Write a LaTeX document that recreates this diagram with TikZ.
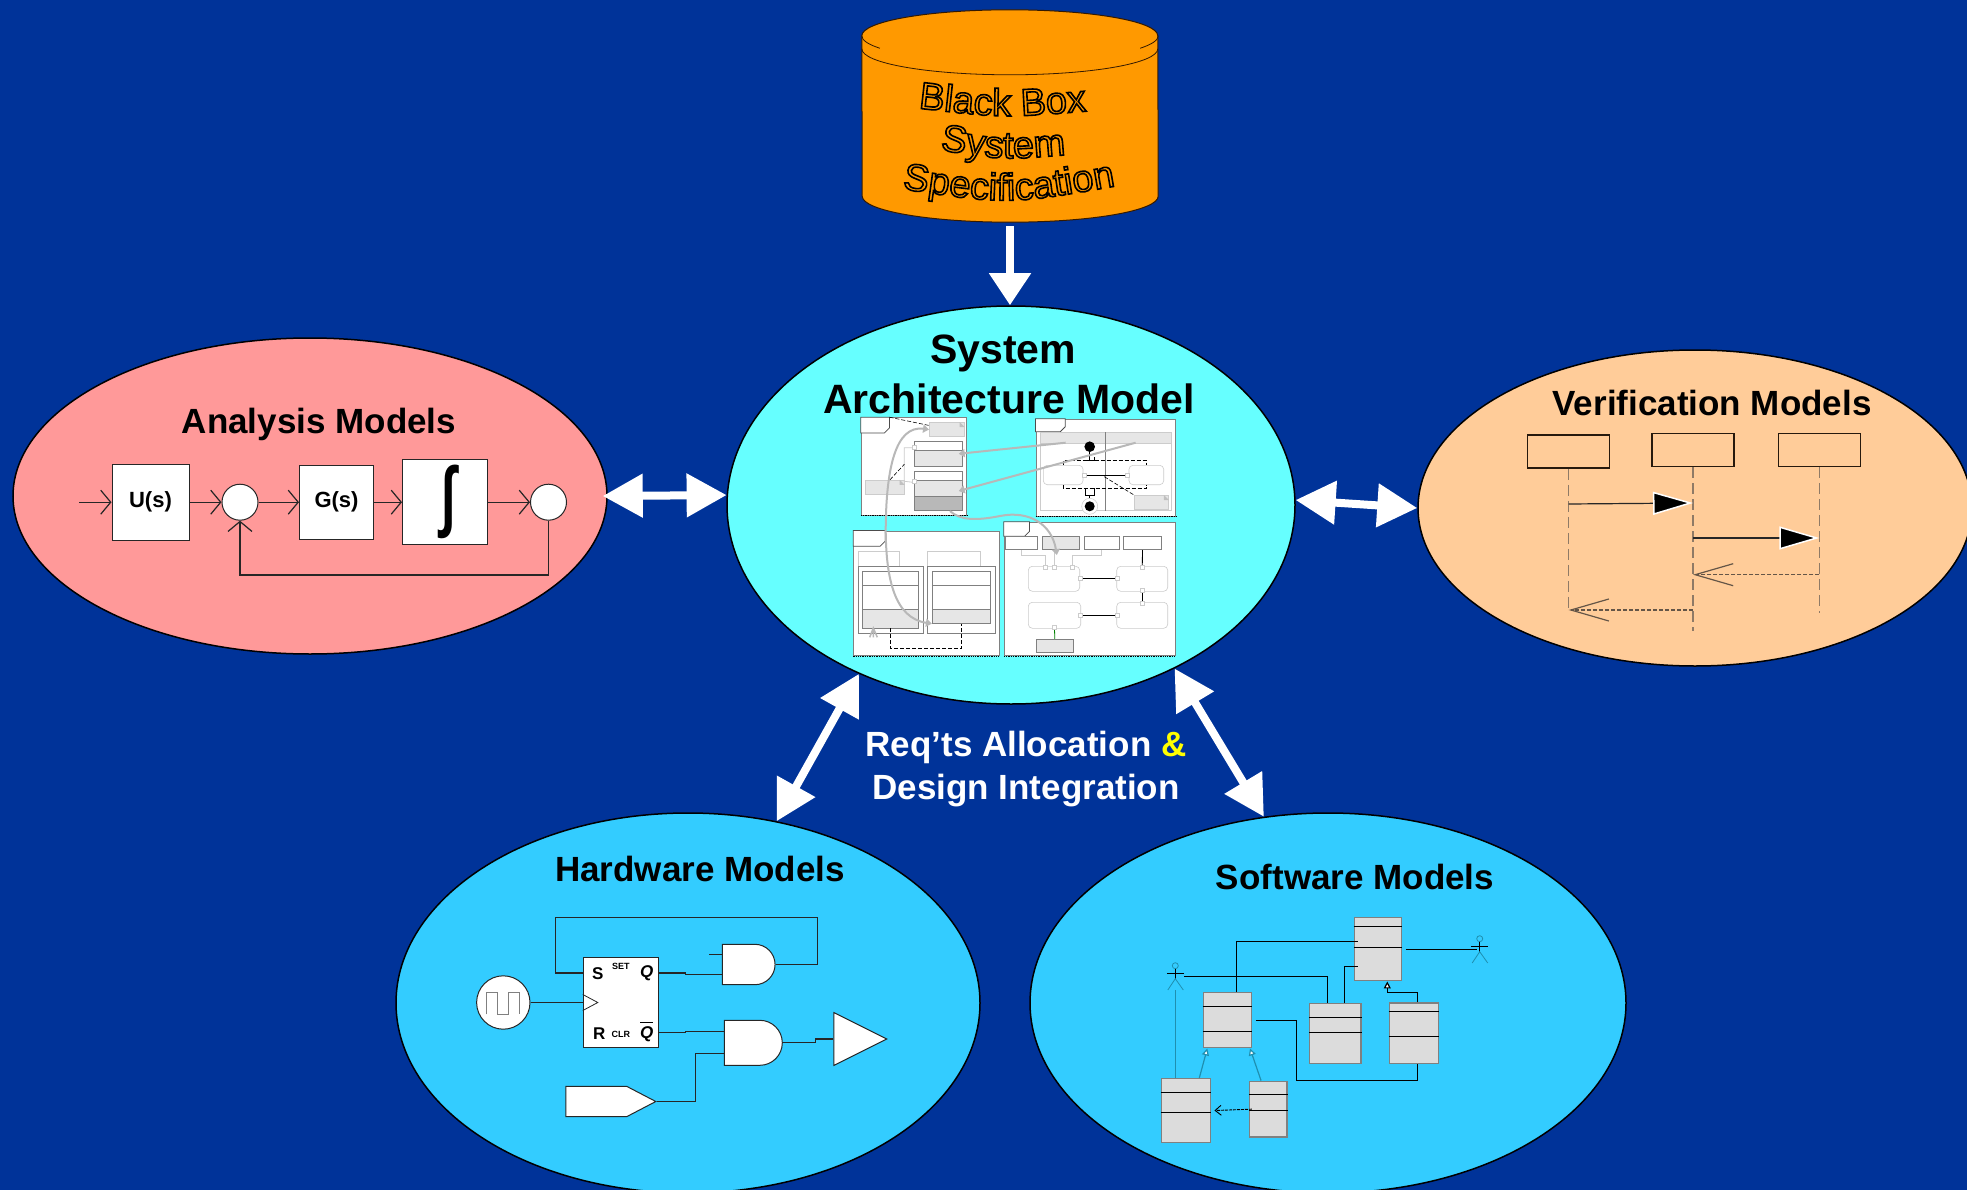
\documentclass[tikz,border=0pt]{standalone}
\usepackage{fontspec}
\setmainfont{Liberation Sans}
\usetikzlibrary{arrows.meta,positioning,shapes.geometric,shapes.misc,shapes.symbols,decorations.text}
\definecolor{pageblue}{HTML}{003399}
\definecolor{boxorange}{HTML}{FF9900}
\definecolor{pinkmodel}{HTML}{FF9999}
\definecolor{cyanmodel}{HTML}{66FFFF}
\definecolor{peachmodel}{HTML}{FFCC99}
\definecolor{bluemodel}{HTML}{33CCFF}
\definecolor{andyellow}{HTML}{FFFF00}
\definecolor{panelgray}{HTML}{808080}
\definecolor{linkgray}{HTML}{B8B8B8}
\definecolor{notegray}{HTML}{E6E6E6}
\definecolor{portgray}{HTML}{CCCCCC}
\definecolor{classgray}{HTML}{DCDCDC}
\definecolor{lifebrown}{HTML}{8F7A66}
\definecolor{umlteal}{HTML}{1F8FB0}
\makeatletter
\newcommand{\strokedtext}[2]{\pgfsys@beginscope\pgfsys@invoke{2 Tr #1 w 0 G }#2\pgfsys@endscope}
\makeatother
\newcommand{\outlinechar}[1]{\strokedtext{1.6}{#1}}
\tikzset{
  bubble/.style={ellipse,draw=black,line width=1.5pt,inner sep=0pt},
  modeltitle/.style={font=\fontsize{35}{38}\selectfont\bfseries,inner sep=0pt},
  bigarrow/.style={draw=white,line width=8pt,{Triangle[width=42pt,length=40pt]}-{Triangle[width=42pt,length=40pt]}},
  wire/.style={draw=black!85,line width=1.2pt},
  chevron/.style={wire,-{Straight Barb[length=10pt,width=24pt]}},
  block/.style={draw=black!85,fill=white,line width=1pt,inner sep=0pt,font=\fontsize{22}{24}\selectfont\bfseries},
  junction/.style={circle,draw=black!85,fill=white,line width=1pt,minimum size=36pt,inner sep=0pt},
  lifebox/.style={draw=black!80!brown,line width=1.5pt,minimum width=82pt,minimum height=33pt,inner sep=0pt},
  lifeline/.style={draw=lifebrown,line width=1.5pt,dash pattern=on 11pt off 5pt},
  callmsg/.style={wire,-{Triangle[length=40pt,width=23pt,fill=black,color=white,line width=1.5pt]}},
  retmsg/.style={draw=lifebrown!70!black,line width=1.2pt,dash pattern=on 4pt off 2pt,-{Straight Barb[length=38pt,width=22pt]}},
  gate/.style={rounded rectangle,rounded rectangle left arc=none,draw=black!85,fill=white,line width=1pt,inner sep=0pt},
  fftext/.style={inner sep=0pt,font=\fontsize{17}{18}\selectfont\bfseries},
  ffsmall/.style={inner sep=0pt,font=\fontsize{9}{10}\selectfont\bfseries},
  umlclass/.style={draw=panelgray,fill=classgray,line width=1.5pt,inner sep=0pt},
  umlwire/.style={draw=black,line width=1.2pt},
  umlgen/.style={draw=umlteal,line width=1.2pt,-{Triangle[open,fill=white,length=7pt,width=7pt]}},
  panel/.style={draw=panelgray,fill=white,line width=1pt,inner sep=0pt},
  tabline/.style={draw=black!70,fill=white,line width=.8pt},
  notebox/.style={fill=notegray,draw=portgray,line width=.5pt,inner sep=0pt},
  partbox/.style={draw=panelgray,fill=white,line width=.8pt,inner sep=0pt},
  shadebox/.style={partbox,fill=notegray},
  lightframe/.style={draw=portgray,fill=white,line width=.8pt,inner sep=0pt},
  roundbox/.style={draw=portgray,fill=white,line width=.6pt,rounded corners=4pt,inner sep=0pt},
  port/.style={draw=portgray,fill=white,line width=.5pt,minimum size=4pt,inner sep=0pt},
  lightlink/.style={draw=portgray,line width=.8pt},
  dashlink/.style={draw=black,line width=.6pt,dash pattern=on 4pt off 2pt},
  graylink/.style={draw=linkgray,line width=2pt,-{Triangle[length=6pt,width=8pt]}},
  fineblack/.style={draw=black,line width=.8pt},
  specline/.style={decorate,decoration={text effects along path,text={#1},text align=center,text effects/.cd,text along path,character command=\outlinechar,every character/.style={text=boxorange,font=\fontsize{38}{40}\selectfont}}},
  pics/actor/.style={code={
    \coordinate (-head) at (0pt,0pt);
    \coordinate (-hand) at (8.7pt,-10.6pt);
    \coordinate (-foot) at (0pt,-24.3pt);
    \draw[draw=umlteal,line width=.8pt] (0pt,0pt) circle (3pt);
    \draw[umlwire] (0pt,-3pt) -- (0pt,-13pt) (-8.5pt,-7.6pt) -- (8.5pt,-7.6pt);
    \draw[draw=umlteal,line width=.8pt] (-7.5pt,-24.3pt) -- (0pt,-13pt) -- (8pt,-24.3pt);
  }}
}
\newcommand{\cbox}[6]{\node[#2,minimum width={(#5-#3)*1pt},minimum height={(#6-#4)*1pt}] (#1) at ({(#3+#5)/2},{(#4+#6)/2}) {};}
\newcommand{\uml}[7]{\cbox{#1}{umlclass}{#2}{#3}{#4}{#5}
  \draw[umlwire] (#1.west |- 0,#6) -- (#1.east |- 0,#6) (#1.west |- 0,#7) -- (#1.east |- 0,#7);}
\newcommand{\paneltab}[3]{\draw[tabline] (#1.north west) -- ++(#2pt,0pt) -- ++(0pt,-#3pt+5pt) -- ++(-5pt,-5pt) -| cycle;}
\newcommand{\notefold}[1]{\fill[panelgray!50] ([xshift=-5pt]#1.north east) -- ([yshift=-5pt]#1.north east) -- ([shift={(-5pt,-5pt)}]#1.north east) -- cycle;}
\newcommand{\panelfoot}[1]{\draw[black,line width=1.3pt,densely dotted] (#1.south west) -- (#1.south east);}
\begin{document}
\begin{tikzpicture}[x=1pt,y=-1pt,on grid]
  \useasboundingbox (0,0) rectangle (1967,1190);
  \clip (0,0) rectangle (1967,1190);
  \fill[pageblue] (0,0) rectangle (1967,1190);

  \node [bubble,fill=cyanmodel,minimum width=568pt,minimum height=398pt] (system) at (1011,505) {};
  \node [bubble,fill=pinkmodel,minimum width=594pt,minimum height=316pt] (analysis) [above left=9pt and 701pt of system] {};
  \node [bubble,fill=peachmodel,minimum width=554pt,minimum height=316pt] (verification) [below right=3pt and 684pt of system] {};
  \node [bubble,fill=bluemodel,minimum width=584pt,minimum height=380pt] (hardware) [below left=498pt and 323pt of system] {};
  \node [bubble,fill=bluemodel,minimum width=596pt,minimum height=380pt] (software) [below right=498pt and 317pt of system] {};

  \node [inner sep=0pt,minimum width=296pt,minimum height=212pt] (blackbox) at (1010,116) {};
  \draw[fill=boxorange,draw=black!80!orange,line width=1pt] ([yshift=-26pt]blackbox.north west) arc[start angle=180,end angle=0,x radius=148pt,y radius=26pt]
    -- ([yshift=26pt]blackbox.south east) arc[start angle=0,end angle=-180,x radius=148pt,y radius=26pt] -- cycle;
  \draw[draw=black!80!orange,line width=.8pt] ([yshift=-39pt]blackbox.north west) arc[start angle=180,end angle=360,x radius=148pt,y radius=26pt];
  \draw[draw=black!80!orange,line width=.8pt] ([yshift=-26pt]blackbox.north west) arc[start angle=180,end angle=208.6,x radius=148pt,y radius=26pt];
  \draw[draw=black!80!orange,line width=.8pt] ([yshift=-26pt]blackbox.north east) arc[start angle=0,end angle=-28.6,x radius=148pt,y radius=26pt];
  \coordinate (bba) at (916,108);
  \coordinate (bbb) at (1089,111);
  \coordinate (bbc) at (940,150);
  \coordinate (bbd) at (1064,155);
  \coordinate (bbe) at (896,188);
  \coordinate (bbf) at (1122,185);
  \path[specline={Black Box}] (bba) .. controls (1003,118) .. (bbb);
  \path[specline={System}] (bbc) .. controls (1003,160) .. (bbd);
  \path[specline={Specification}] (bbe) .. controls (1008,205) .. (bbf);

  \draw[draw=white,line width=8pt,shorten <=4pt,-{Triangle[width=40pt,length=32pt]}] (blackbox.south) -- (blackbox.south |- system.north);
  \draw[bigarrow] ([xshift=-5pt]analysis.0) -- (system.178);
  \draw[bigarrow] (system.1) -- (verification.180);
  \draw[bigarrow] (system.228) -- (hardware.64);
  \draw[bigarrow] (system.-45.3) -- (software.109.8);

  \node[modeltitle,font=\fontsize{41}{44}\selectfont\bfseries] (systitle) [above left=152pt and 8pt of system] {System};
  \node[modeltitle,font=\fontsize{41}{44}\selectfont\bfseries] (archtitle) [below right=46pt and 6pt of systitle] {Architecture Model};
  \node[modeltitle] (analysistitle) [above right=72pt and 9pt of analysis] {Analysis Models};
  \node[modeltitle] (verificationtitle) [above right=105pt and 17pt of verification] {Verification Models};
  \node[modeltitle] (hardwaretitle) [above right=134pt and 12pt of hardware] {Hardware Models};
  \node[modeltitle] (softwaretitle) [above right=126pt and 27pt of software] {Software Models};
  \node[align=center,text=white,inner sep=0pt,font=\fontsize{35}{43}\selectfont\bfseries] (reqs) [below right=264pt and 15pt of system] {Req’ts Allocation {\color{andyellow}\&}\\Design Integration};

  \node[block,minimum width=77pt,minimum height=76.3pt] (us) at (150.5,502.2) {U(s)};
  \node[junction] (suma) [right=89.5pt of us] {};
  \node[block,minimum width=74pt,minimum height=73.7pt] (gs) [right=96.5pt of suma] {G(s)};
  \node[block,minimum width=85pt,minimum height=85pt,font=\fontsize{72}{72}\selectfont\bfseries] (intg) [right=108.5pt of gs] {\hspace*{8pt}\scalebox{.72}[1.08]{∫}};
  \node[junction] (sumb) [right=103.5pt of intg] {};
  \node[inner sep=0pt,minimum size=0pt] (usin) [left=71.5pt of us] {};
  \path[chevron]
    (usin) edge (us)
    (us) edge (suma)
    (suma) edge (gs)
    (gs) edge (intg)
    (intg) edge (sumb);
  \draw[chevron] (sumb.south) -- ++(0pt,-54.3pt) -| (suma.south);

  \node[lifebox] (vera) at (1568.7,451.5) {};
  \node[lifebox] (verb) [above right=1.5pt and 124.3pt of vera] {};
  \node[lifebox] (verc) [right=126.3pt of verb] {};
  \coordinate[below=158.5pt of vera] (veraend);
  \coordinate[below=180.5pt of verb] (verbend);
  \coordinate[below=162.5pt of verc] (vercend);
  \path[lifeline]
    (vera.south) edge (veraend)
    (verb.south) edge (verbend)
    (verc.south) edge (vercend);
  \draw[callmsg] (vera |- 0,504) -- (verb |- 0,503);
  \draw[callmsg] (verb |- 0,538) -- (verc |- 0,538);
  \draw[retmsg] (verc |- 0,574.7) -- (verb |- 0,574.7);
  \draw[retmsg] (verb |- 0,610) -- (vera |- 0,610);

  \node[block,minimum width=75pt,minimum height=90pt] (ff) at (620.8,1002.5) {};
  \node[fftext] (ffs) [above left=28.5pt and 23.1pt of ff] {S};
  \node[ffsmall] (ffset) [above=36.5pt of ff] {SET};
  \node[fftext] (ffq) [above right=29.2pt and 25.9pt of ff] {\itshape Q};
  \node[fftext] (ffr) [below left=31.5pt and 21.5pt of ff] {R};
  \node[ffsmall] (ffclr) [below=31.5pt of ff] {CLR};
  \node[fftext] (ffqbar) [below right=29.2pt and 25.9pt of ff] {$\overline{\mbox{\itshape Q}\rule{0pt}{15pt}}$};
  \draw[draw=black!85,line width=.8pt] ([yshift=8pt]ff.west) -- ([xshift=15pt]ff.west) -- ([yshift=-8pt]ff.west);
  \node[junction,minimum size=53.4pt] (clock) [left=117.5pt of ff] {};
  \draw[draw=panelgray,line width=1.2pt] (486.7,1014.3) |- (497.7,992.3) |- (508.7,1014.3) |- (519.3,992.3) -- (519.3,1014.3);
  \node[gate,minimum width=52.7pt,minimum height=40.4pt] (andtop) [above right=38pt and 127.9pt of ff] {};
  \node[gate,minimum width=58pt,minimum height=45pt] (andbot) [below right=40.3pt and 132.5pt of ff] {};
  \node[isosceles triangle,isosceles triangle apex angle=53,draw=black!85,fill=white,line width=1pt,inner sep=0pt,minimum height=53pt,anchor=lower side] (driver) at (833.3,1039) {};
  \node[signal,signal to=east,signal from=nowhere,signal pointer angle=55,draw=black!85,fill=white,line width=1pt,inner sep=0pt,minimum width=90pt,minimum height=30.4pt] (inport) at (596.2,1101.5) {};
  \draw[wire] (clock) -- (ff.west);
  \draw[wire] (andtop.east) -- ++(41.7pt,0pt) -- ++(0pt,47pt) -| ([xshift=-27.3pt,yshift=29.5pt]ff.west) -- ([yshift=29.5pt]ff.west);
  \draw[wire] ([yshift=29.5pt]ff.east) -- ++(27pt,0pt) |- ([yshift=-10.2pt]andtop.west);
  \draw[wire] ([yshift=10.2pt]andtop.west) -- ++(-13.3pt,0pt);
  \draw[wire] ([yshift=-30pt]ff.east) -- ++(27pt,0pt) |- ([yshift=11.5pt]andbot.west);
  \draw[wire] (inport.east) -- ++(38.3pt,0pt) |- ([yshift=-10.5pt]andbot.west);
  \draw[wire] (andbot.east) -- ++(33pt,0pt) |- (driver.lower side);

  \uml{clsa}{1354.3}{917.7}{1401.7}{980.7}{926.3}{947.3}
  \uml{clsb}{1203.3}{992.3}{1251.7}{1047.7}{1006.3}{1031.3}
  \uml{clsc}{1309.7}{1003.3}{1361}{1063.3}{1017.3}{1032.3}
  \uml{clsd}{1389.3}{1003}{1438.7}{1063.7}{1011.3}{1036.3}
  \uml{clse}{1161.3}{1078.7}{1210.7}{1142.3}{1092.3}{1112.3}
  \uml{clsf}{1249.7}{1081.3}{1287}{1137}{1094.3}{1110.3}
  \pic (actr) at (1479.7,938.7) {actor};
  \pic (actl) at (1175.3,965.7) {actor};
  \draw[umlwire] ([xshift=8.8pt]clsb.north) |- ([shift={(4pt,8pt)}]clsa.west);
  \draw[umlwire] (actl-hand) -| ([xshift=-8pt]clsc.north);
  \draw[umlwire] ([xshift=9pt]clsc.north) |- ([shift={(4pt,-17pt)}]clsa.west);
  \draw[umlwire] ([xshift=3.3pt]clsa.east) -- ([xshift=-11pt]actr-hand |- clsa.east);
  \draw[umlwire,-{Triangle[open,fill=white,length=7pt,width=7pt]}] ([xshift=3.3pt]clsd.north) -- ++(0pt,9.7pt) -| ([xshift=9.3pt]clsa.south);
  \draw[umlwire] ([shift={(3.3pt,0pt)}]clsb.east |- 0,1020.3) -| (1296.3,1080.3) -| ([xshift=3.3pt]clsd.south);
  \draw[umlgen] ([xshift=13.3pt]clse.north) -- ([xshift=-20.2pt]clsb.south);
  \draw[umlgen] ([xshift=-7.3pt]clsf.north) -- ([xshift=22.5pt]clsb.south);
  \draw[draw=umlteal,line width=1.2pt] (actl-foot) -- (actl-foot |- clse.north);
  \draw[draw=black,line width=.9pt,dash pattern=on 3pt off 1pt,-{Straight Barb[length=6pt,width=10pt]}] ([xshift=3pt]clsf.west) -- ([xshift=3pt]clse.east);

  \cbox{pa}{panel}{861.3}{417.7}{966.7}{515}
  \paneltab{pa}{28.7}{15.7}
  \panelfoot{pa}
  \cbox{panote}{notebox}{929.3}{422.3}{964.3}{436.7}
  \notefold{panote}
  \cbox{pab}{partbox}{914.3}{441.3}{962.3}{466.3}
  \cbox{pabg}{shadebox}{914.3}{450}{962.3}{466.3}
  \cbox{pac}{partbox}{914.3}{471.3}{962.3}{510.7}
  \cbox{pacg}{shadebox}{914.3}{480.3}{962.3}{496}
  \cbox{pacd}{shadebox,fill=linkgray}{914.3}{496}{962.3}{510.7}
  \cbox{panoteb}{notebox}{865.3}{480}{904.3}{494.7}
  \notefold{panoteb}
  \draw[lightlink] ([yshift=6pt]pab.west) -| (904.3,481.3) -- ([yshift=-2.5pt]pacg.north west);
  \draw[dashlink] ([xshift=28.7pt]pa.north west) -- ([yshift=-3.4pt]panote.north west);
  \draw[dashlink] ([xshift=5.2pt]panoteb.north) -- (904.3,464.3);

  \cbox{pb}{panel}{1036}{419.3}{1175.7}{516}
  \paneltab{pb}{29.7}{13}
  \panelfoot{pb}
  \cbox{pbframe}{lightframe}{1040.3}{432.3}{1171}{510.7}
  \cbox{pbband}{notebox}{1040.3}{432.3}{1171}{443.7}
  \draw[draw=panelgray,line width=.7pt] (pbband.north) -- (pbframe.south);
  \node[circle,fill=black,minimum size=10.6pt,inner sep=0pt] (pbstart) at (1089.7,446.7) {};
  \node[circle,draw=portgray,fill=white,line width=.5pt,minimum size=16pt,inner sep=0pt] (pbring) at (1089.7,506.3) {};
  \node[circle,fill=black,minimum size=10pt,inner sep=0pt] (pbend) at (1089.7,506.3) {};
  \cbox{pbsa}{roundbox}{1043.3}{465.3}{1083}{484.7}
  \cbox{pbsb}{roundbox}{1129}{465.3}{1163.7}{484.7}
  \cbox{pbnote}{notebox}{1134.3}{495.3}{1168.7}{509.7}
  \notefold{pbnote}
  \draw[dashlink] (pbsa.north) -- ++(0pt,4.6pt) -| (pbsb.north);
  \draw[dashlink] (pbsa.south) -- ++(0pt,-3.6pt) -| (pbsb.south);
  \draw[dashlink] (1104.3,476.7) -- (pbnote.north west);
  \draw[fineblack] (pbsa) -- (pbsb);
  \draw[fineblack] (pbstart) -- (1089.7,459.5);
  \draw[draw=black,line width=1pt] (1085,460) -- (1094.3,460) -- (1094.3,457);
  \draw[draw=black,line width=1pt] (1085,488.3) |- (1094.3,495) -- (1094.3,488.3);
  \draw[fineblack] (1089.7,495) -- (pbring);

  \cbox{pc}{panel}{853.7}{531}{999.7}{655.7}
  \paneltab{pc}{32}{15.7}
  \panelfoot{pc}
  \cbox{pcha}{lightframe}{858.3}{551.3}{899.3}{566.7}
  \cbox{pcba}{partbox}{858.3}{566.7}{923.3}{633.3}
  \cbox{pcsa}{partbox}{862.7}{571.7}{918.7}{628}
  \cbox{pcga}{shadebox}{862.7}{609.3}{918.7}{628}
  \cbox{pchb}{lightframe}{927.7}{551.3}{980.7}{566.7}
  \cbox{pcbb}{partbox}{927.7}{566.7}{995.3}{633.3}
  \cbox{pcsb}{partbox}{932.3}{571.7}{990.7}{623.3}
  \cbox{pcgb}{shadebox}{932.3}{609.3}{990.7}{623.3}
  \draw[draw=panelgray,line width=.6pt] (pcsa.west |- 0,585.3) -- (pcsa.east |- 0,585.3) (pcsb.west |- 0,585.3) -- (pcsb.east |- 0,585.3);
  \draw[dashlink] (pcsa.south) -- ++(0pt,-20.3pt) -| (pcsb.south);
  \draw[draw=linkgray,line width=1.5pt] (869.7,637.3) -- (873.3,628) -- (877.3,637.3) (873.3,628) -- (873.3,637.3);

  \cbox{pd}{panel}{1004.3}{522.3}{1175.7}{655.7}
  \paneltab{pd}{25.7}{14.5}
  \panelfoot{pd}
  \cbox{pdta}{partbox}{1005}{536.3}{1037.3}{549.7}
  \cbox{pdtb}{shadebox}{1042.3}{536.3}{1079.3}{549.7}
  \cbox{pdtc}{partbox}{1084.3}{536.3}{1119.3}{549.7}
  \cbox{pdtd}{partbox}{1123.3}{536.3}{1161.7}{549.7}
  \cbox{pdra}{roundbox}{1028.3}{566.3}{1079.7}{591.3}
  \cbox{pdrb}{roundbox}{1116.7}{566.3}{1167.7}{591.3}
  \cbox{pdrc}{roundbox}{1028.3}{602.3}{1080.7}{628.3}
  \cbox{pdrd}{roundbox}{1116.7}{602.3}{1167.7}{628.3}
  \cbox{pdg}{shadebox}{1036.3}{639.3}{1073.3}{652.3}
  \draw[lightlink] (pdta.south) -- ++(0pt,-5.3pt) -| ([xshift=-9pt]pdra.north);
  \draw[lightlink] (pdra.north |- pdtb.south) -- (pdra.north);
  \draw[lightlink] (pdtc.south) -- ++(0pt,-5.3pt) -| ([xshift=18.3pt]pdra.north);
  \path[fineblack]
    (pdtd) edge (pdrb)
    (pdra) edge (pdrb)
    (pdrc) edge (pdrd)
    (pdrb) edge (pdrd);
  \draw[draw=green!50!black,line width=.8pt] (pdrc.south) -- (pdg.north);
  \foreach \px/\py [count=\pn] in {914.3/447.3,914.3/481.3,1084.7/475.3,1127.3/475.3,1045/567,1054/567,1072.3/567,1080/578.7,1117/578.7,1142/567,1142/590,1142/603.5,1080/615.3,1117/615.3,1054.5/627} {
    \node[port] (port\pn) at (\px,\py) {};
  }
  \draw[graylink,{Triangle[length=6pt,width=8pt]}-{Triangle[length=6pt,width=8pt]}] (panote.west) .. controls (895,425) and (886,470) .. (885.7,530) .. controls (886,580) and (895,618) .. (pcsb.south west);
  \draw[graylink] ([shift={(-40pt,-4.7pt)}]pbband.center) -- ([xshift=-4pt]pab.east);
  \draw[graylink] ([shift={(30pt,-4.7pt)}]pbband.center) -- ([xshift=-4pt]pac.east);
  \draw[graylink] ([xshift=11.7pt]pac.south) .. controls (960,520) and (975,521) .. (1000,516) .. controls (1030,510) and (1052,525) .. ([shift={(-4pt,-5pt)}]pdtb.south);
\end{tikzpicture}
\end{document}
